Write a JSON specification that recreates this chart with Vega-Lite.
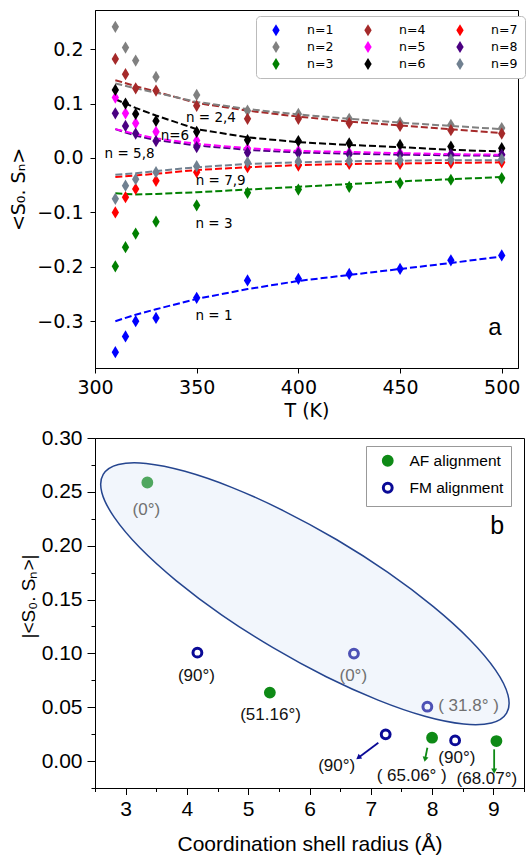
{
  "$schema": "https://vega.github.io/schema/vega-lite/v6.json",
  "background": "white",
  "padding": {"left": 9, "top": 9, "right": 0, "bottom": 0},
  "spacing": 5,
  "resolve": {"legend": {"color": "independent", "fill": "independent", "stroke": "independent"}, "scale": {"color": "independent", "fill": "independent", "stroke": "independent"}},
  "config": {
    "view": {"stroke": "black", "strokeWidth": 1},
    "axis": {"grid": false, "domainColor": "black", "tickColor": "black", "labelColor": "black", "titleColor": "black", "labelFlush": false, "labelOverlap": false, "titleFontWeight": "normal"}
  },
  "datasets": {
    "pts": [
      {"n": "n=1", "T": 310, "v": -0.357}, {"n": "n=1", "T": 315, "v": -0.328}, {"n": "n=1", "T": 320, "v": -0.300}, {"n": "n=1", "T": 330, "v": -0.294}, {"n": "n=1", "T": 350, "v": -0.257}, {"n": "n=1", "T": 375, "v": -0.225}, {"n": "n=1", "T": 400, "v": -0.222}, {"n": "n=1", "T": 425, "v": -0.213}, {"n": "n=1", "T": 450, "v": -0.204}, {"n": "n=1", "T": 475, "v": -0.188}, {"n": "n=1", "T": 500, "v": -0.179},
      {"n": "n=2", "T": 310, "v": 0.241}, {"n": "n=2", "T": 315, "v": 0.203}, {"n": "n=2", "T": 320, "v": 0.179}, {"n": "n=2", "T": 330, "v": 0.149}, {"n": "n=2", "T": 350, "v": 0.116}, {"n": "n=2", "T": 375, "v": 0.087}, {"n": "n=2", "T": 400, "v": 0.081}, {"n": "n=2", "T": 425, "v": 0.072}, {"n": "n=2", "T": 450, "v": 0.065}, {"n": "n=2", "T": 475, "v": 0.061}, {"n": "n=2", "T": 500, "v": 0.055},
      {"n": "n=3", "T": 310, "v": -0.199}, {"n": "n=3", "T": 315, "v": -0.164}, {"n": "n=3", "T": 320, "v": -0.139}, {"n": "n=3", "T": 330, "v": -0.117}, {"n": "n=3", "T": 350, "v": -0.087}, {"n": "n=3", "T": 375, "v": -0.064}, {"n": "n=3", "T": 400, "v": -0.058}, {"n": "n=3", "T": 425, "v": -0.053}, {"n": "n=3", "T": 450, "v": -0.046}, {"n": "n=3", "T": 475, "v": -0.040}, {"n": "n=3", "T": 500, "v": -0.037},
      {"n": "n=4", "T": 310, "v": 0.182}, {"n": "n=4", "T": 315, "v": 0.154}, {"n": "n=4", "T": 320, "v": 0.128}, {"n": "n=4", "T": 330, "v": 0.124}, {"n": "n=4", "T": 350, "v": 0.096}, {"n": "n=4", "T": 375, "v": 0.072}, {"n": "n=4", "T": 400, "v": 0.072}, {"n": "n=4", "T": 425, "v": 0.064}, {"n": "n=4", "T": 450, "v": 0.059}, {"n": "n=4", "T": 475, "v": 0.051}, {"n": "n=4", "T": 500, "v": 0.045},
      {"n": "n=5", "T": 310, "v": 0.111}, {"n": "n=5", "T": 315, "v": 0.082}, {"n": "n=5", "T": 320, "v": 0.064}, {"n": "n=5", "T": 330, "v": 0.048}, {"n": "n=5", "T": 350, "v": 0.032}, {"n": "n=5", "T": 375, "v": 0.017}, {"n": "n=5", "T": 400, "v": 0.013}, {"n": "n=5", "T": 425, "v": 0.010}, {"n": "n=5", "T": 450, "v": 0.009}, {"n": "n=5", "T": 475, "v": 0.007}, {"n": "n=5", "T": 500, "v": 0.006},
      {"n": "n=6", "T": 310, "v": 0.125}, {"n": "n=6", "T": 315, "v": 0.100}, {"n": "n=6", "T": 320, "v": 0.081}, {"n": "n=6", "T": 330, "v": 0.068}, {"n": "n=6", "T": 350, "v": 0.048}, {"n": "n=6", "T": 375, "v": 0.033}, {"n": "n=6", "T": 400, "v": 0.031}, {"n": "n=6", "T": 425, "v": 0.027}, {"n": "n=6", "T": 450, "v": 0.024}, {"n": "n=6", "T": 475, "v": 0.021}, {"n": "n=6", "T": 500, "v": 0.018},
      {"n": "n=7", "T": 310, "v": -0.100}, {"n": "n=7", "T": 315, "v": -0.072}, {"n": "n=7", "T": 320, "v": -0.057}, {"n": "n=7", "T": 330, "v": -0.042}, {"n": "n=7", "T": 350, "v": -0.026}, {"n": "n=7", "T": 375, "v": -0.017}, {"n": "n=7", "T": 400, "v": -0.014}, {"n": "n=7", "T": 425, "v": -0.011}, {"n": "n=7", "T": 450, "v": -0.011}, {"n": "n=7", "T": 475, "v": -0.009}, {"n": "n=7", "T": 500, "v": -0.008},
      {"n": "n=8", "T": 310, "v": 0.082}, {"n": "n=8", "T": 315, "v": 0.059}, {"n": "n=8", "T": 320, "v": 0.045}, {"n": "n=8", "T": 330, "v": 0.031}, {"n": "n=8", "T": 350, "v": 0.020}, {"n": "n=8", "T": 375, "v": 0.010}, {"n": "n=8", "T": 400, "v": 0.009}, {"n": "n=8", "T": 425, "v": 0.007}, {"n": "n=8", "T": 450, "v": 0.006}, {"n": "n=8", "T": 475, "v": 0.006}, {"n": "n=8", "T": 500, "v": 0.006},
      {"n": "n=9", "T": 310, "v": -0.075}, {"n": "n=9", "T": 315, "v": -0.051}, {"n": "n=9", "T": 320, "v": -0.039}, {"n": "n=9", "T": 330, "v": -0.026}, {"n": "n=9", "T": 350, "v": -0.015}, {"n": "n=9", "T": 375, "v": -0.008}, {"n": "n=9", "T": 400, "v": -0.006}, {"n": "n=9", "T": 425, "v": -0.005}, {"n": "n=9", "T": 450, "v": -0.004}, {"n": "n=9", "T": 475, "v": -0.003}, {"n": "n=9", "T": 500, "v": -0.002}
    ],
    "fit": [
      {"n": "n=1", "T": 310, "v": -0.300}, {"n": "n=1", "T": 320, "v": -0.288}, {"n": "n=1", "T": 330, "v": -0.278}, {"n": "n=1", "T": 350, "v": -0.259}, {"n": "n=1", "T": 375, "v": -0.241}, {"n": "n=1", "T": 400, "v": -0.226}, {"n": "n=1", "T": 425, "v": -0.215}, {"n": "n=1", "T": 450, "v": -0.204}, {"n": "n=1", "T": 475, "v": -0.193}, {"n": "n=1", "T": 500, "v": -0.181},
      {"n": "n=4", "T": 310, "v": 0.143}, {"n": "n=4", "T": 320, "v": 0.132}, {"n": "n=4", "T": 330, "v": 0.122}, {"n": "n=4", "T": 350, "v": 0.101}, {"n": "n=4", "T": 375, "v": 0.087}, {"n": "n=4", "T": 400, "v": 0.076}, {"n": "n=4", "T": 425, "v": 0.067}, {"n": "n=4", "T": 450, "v": 0.060}, {"n": "n=4", "T": 475, "v": 0.053}, {"n": "n=4", "T": 500, "v": 0.046},
      {"n": "n=2", "T": 310, "v": 0.137}, {"n": "n=2", "T": 320, "v": 0.128}, {"n": "n=2", "T": 330, "v": 0.120}, {"n": "n=2", "T": 350, "v": 0.103}, {"n": "n=2", "T": 375, "v": 0.090}, {"n": "n=2", "T": 400, "v": 0.080}, {"n": "n=2", "T": 425, "v": 0.072}, {"n": "n=2", "T": 450, "v": 0.065}, {"n": "n=2", "T": 475, "v": 0.059}, {"n": "n=2", "T": 500, "v": 0.053},
      {"n": "n=3", "T": 310, "v": -0.065}, {"n": "n=3", "T": 320, "v": -0.067}, {"n": "n=3", "T": 330, "v": -0.066}, {"n": "n=3", "T": 350, "v": -0.063}, {"n": "n=3", "T": 375, "v": -0.058}, {"n": "n=3", "T": 400, "v": -0.053}, {"n": "n=3", "T": 425, "v": -0.048}, {"n": "n=3", "T": 450, "v": -0.043}, {"n": "n=3", "T": 475, "v": -0.039}, {"n": "n=3", "T": 500, "v": -0.035},
      {"n": "n=6", "T": 310, "v": 0.108}, {"n": "n=6", "T": 320, "v": 0.092}, {"n": "n=6", "T": 330, "v": 0.078}, {"n": "n=6", "T": 350, "v": 0.053}, {"n": "n=6", "T": 375, "v": 0.038}, {"n": "n=6", "T": 400, "v": 0.029}, {"n": "n=6", "T": 425, "v": 0.024}, {"n": "n=6", "T": 450, "v": 0.020}, {"n": "n=6", "T": 475, "v": 0.015}, {"n": "n=6", "T": 500, "v": 0.012},
      {"n": "n=8", "T": 310, "v": 0.053}, {"n": "n=8", "T": 320, "v": 0.041}, {"n": "n=8", "T": 330, "v": 0.033}, {"n": "n=8", "T": 350, "v": 0.023}, {"n": "n=8", "T": 375, "v": 0.015}, {"n": "n=8", "T": 400, "v": 0.010}, {"n": "n=8", "T": 425, "v": 0.008}, {"n": "n=8", "T": 450, "v": 0.006}, {"n": "n=8", "T": 475, "v": 0.005}, {"n": "n=8", "T": 500, "v": 0.004},
      {"n": "n=5", "T": 310, "v": 0.053}, {"n": "n=5", "T": 320, "v": 0.044}, {"n": "n=5", "T": 330, "v": 0.036}, {"n": "n=5", "T": 350, "v": 0.026}, {"n": "n=5", "T": 375, "v": 0.018}, {"n": "n=5", "T": 400, "v": 0.013}, {"n": "n=5", "T": 425, "v": 0.011}, {"n": "n=5", "T": 450, "v": 0.009}, {"n": "n=5", "T": 475, "v": 0.007}, {"n": "n=5", "T": 500, "v": 0.006},
      {"n": "n=7", "T": 310, "v": -0.035}, {"n": "n=7", "T": 320, "v": -0.032}, {"n": "n=7", "T": 330, "v": -0.029}, {"n": "n=7", "T": 350, "v": -0.022}, {"n": "n=7", "T": 375, "v": -0.017}, {"n": "n=7", "T": 400, "v": -0.013}, {"n": "n=7", "T": 425, "v": -0.011}, {"n": "n=7", "T": 450, "v": -0.010}, {"n": "n=7", "T": 475, "v": -0.009}, {"n": "n=7", "T": 500, "v": -0.008},
      {"n": "n=9", "T": 310, "v": -0.031}, {"n": "n=9", "T": 320, "v": -0.028}, {"n": "n=9", "T": 330, "v": -0.024}, {"n": "n=9", "T": 350, "v": -0.017}, {"n": "n=9", "T": 375, "v": -0.011}, {"n": "n=9", "T": 400, "v": -0.008}, {"n": "n=9", "T": 425, "v": -0.006}, {"n": "n=9", "T": 450, "v": -0.005}, {"n": "n=9", "T": 475, "v": -0.004}, {"n": "n=9", "T": 500, "v": -0.004}
    ],
    "toplabels": [
      {"label": "n = 2,4", "T": 357.0, "v": 0.074},
      {"label": "n=6", "T": 339.3, "v": 0.041},
      {"label": "n = 5,8", "T": 317.0, "v": 0.008},
      {"label": "n = 7,9", "T": 361.8, "v": -0.0417},
      {"label": "n = 3", "T": 358.5, "v": -0.121},
      {"label": "n = 1", "T": 358.5, "v": -0.290}
    ],
    "bpts": [
      {"alignment": "AF alignment", "r": 3.354, "v": 0.2587},
      {"alignment": "AF alignment", "r": 5.353, "v": 0.0636},
      {"alignment": "AF alignment", "r": 8.0, "v": 0.0217},
      {"alignment": "AF alignment", "r": 9.05, "v": 0.0186},
      {"alignment": "FM alignment", "r": 4.171, "v": 0.1007},
      {"alignment": "FM alignment", "r": 6.725, "v": 0.0998},
      {"alignment": "FM alignment", "r": 7.923, "v": 0.0505},
      {"alignment": "FM alignment", "r": 7.243, "v": 0.0248},
      {"alignment": "FM alignment", "r": 8.376, "v": 0.0192}
    ],
    "ellipse": [
      {"k": 0, "r": 9.216, "v": 0.0446}, {"k": 1, "r": 8.969, "v": 0.0354}, {"k": 2, "r": 8.515, "v": 0.0344}, {"k": 3, "r": 7.882, "v": 0.0416},
      {"k": 4, "r": 7.119, "v": 0.0566}, {"k": 5, "r": 6.273, "v": 0.0783}, {"k": 6, "r": 5.404, "v": 0.1053}, {"k": 7, "r": 4.570, "v": 0.1356},
      {"k": 8, "r": 3.828, "v": 0.1674}, {"k": 9, "r": 3.229, "v": 0.1983}, {"k": 10, "r": 2.815, "v": 0.2263}, {"k": 11, "r": 2.611, "v": 0.2494},
      {"k": 12, "r": 2.634, "v": 0.2662}, {"k": 13, "r": 2.882, "v": 0.2754}, {"k": 14, "r": 3.335, "v": 0.2764}, {"k": 15, "r": 3.967, "v": 0.2691},
      {"k": 16, "r": 4.730, "v": 0.2542}, {"k": 17, "r": 5.577, "v": 0.2324}, {"k": 18, "r": 6.446, "v": 0.2055}, {"k": 19, "r": 7.279, "v": 0.1752},
      {"k": 20, "r": 8.021, "v": 0.1434}, {"k": 21, "r": 8.621, "v": 0.1125}, {"k": 22, "r": 9.036, "v": 0.0845}, {"k": 23, "r": 9.239, "v": 0.0613}
    ],
    "arrows": [
      {"alignment": "FM alignment", "r": 7.123, "v": 0.0171, "r2": 6.797, "v2": 0.0031},
      {"alignment": "AF alignment", "r": 7.923, "v": 0.0124, "r2": 7.886, "v2": 0.0016},
      {"alignment": "AF alignment", "r": 9.013, "v": 0.0109, "r2": 9.013, "v2": -0.0093}
    ],
    "blabels": [
      {"label": "(0°)", "r": 3.338, "v": 0.2333, "inside": true},
      {"label": "(90°)", "r": 4.155, "v": 0.079, "inside": false},
      {"label": "(51.16°)", "r": 5.364, "v": 0.0425, "inside": false},
      {"label": "(0°)", "r": 6.714, "v": 0.079, "inside": true},
      {"label": "( 31.8° )", "r": 8.595, "v": 0.0511, "inside": true},
      {"label": "(90°)", "r": 6.443, "v": -0.0046, "inside": false},
      {"label": "( 65.06° )", "r": 7.668, "v": -0.0139, "inside": false},
      {"label": "(90°)", "r": 8.404, "v": 0.0031, "inside": false},
      {"label": "(68.07°)", "r": 8.894, "v": -0.017, "inside": false}
    ]
  },
  "vconcat": [
    {
      "width": 423,
      "height": 358,
      "layer": [
        {
          "data": {"name": "fit"},
          "mark": {"type": "line", "strokeDash": [7, 3], "strokeWidth": 2},
          "encoding": {
            "x": {"field": "T", "type": "quantitative", "scale": {"domain": [300, 508], "nice": false, "zero": false},
              "axis": {"title": "T (K)", "values": [300, 350, 400, 450, 500], "format": "d", "labelFont": "DejaVu Sans", "labelFontSize": 19, "titleFont": "DejaVu Sans", "titleFontSize": 19, "tickSize": 5, "labelPadding": 5, "titlePadding": 4}},
            "y": {"field": "v", "type": "quantitative", "scale": {"domain": [-0.386, 0.272], "nice": false, "zero": false},
              "axis": {"title": "<S₀. Sₙ>", "values": [-0.3, -0.2, -0.1, 0, 0.1, 0.2], "format": ".1f", "labelFont": "DejaVu Sans", "labelFontSize": 19, "titleFont": "DejaVu Sans", "titleFontSize": 19, "tickSize": 5, "labelPadding": 7, "titlePadding": 8}},
            "stroke": {"field": "n", "type": "nominal",
              "scale": {"domain": ["n=9", "n=8", "n=7", "n=6", "n=5", "n=4", "n=3", "n=2", "n=1"], "range": ["#708090", "#4b0082", "#ff0000", "#000000", "#ff00ff", "#a52a2a", "#008000", "#808080", "#0000ff"]},
              "legend": null},
            "order": {"field": "T", "type": "quantitative"}
          }
        },
        {
          "data": {"name": "pts"},
          "mark": {"type": "point", "shape": "M0,-1L0.6,0L0,1L-0.6,0Z", "filled": true, "size": 150, "opacity": 1},
          "encoding": {
            "x": {"field": "T", "type": "quantitative"},
            "y": {"field": "v", "type": "quantitative"},
            "color": {"field": "n", "type": "nominal",
              "scale": {"domain": ["n=1", "n=2", "n=3", "n=4", "n=5", "n=6", "n=7", "n=8", "n=9"], "range": ["#0000ff", "#808080", "#008000", "#a52a2a", "#ff00ff", "#000000", "#ff0000", "#4b0082", "#708090"]},
              "legend": {"title": null, "orient": "none", "legendX": 161, "legendY": 6, "columns": 3, "symbolType": "M0,-1L0.6,0L0,1L-0.6,0Z", "symbolSize": 150, "labelFont": "DejaVu Sans", "labelFontSize": 12.5, "labelOffset": 24, "columnPadding": 21, "rowPadding": 3, "padding": 7, "symbolOffset": 6, "fillColor": "white", "strokeColor": "#bbbbbb", "cornerRadius": 4}}
          }
        },
        {
          "data": {"name": "toplabels"},
          "mark": {"type": "text", "font": "DejaVu Sans", "fontSize": 13.5, "color": "black"},
          "encoding": {
            "x": {"field": "T", "type": "quantitative"},
            "y": {"field": "v", "type": "quantitative"},
            "text": {"field": "label"}
          }
        },
        {
          "data": {"values": [{"panel": "a", "T": 496.6, "v": -0.313}]},
          "mark": {"type": "text", "font": "Liberation Sans", "fontSize": 24, "color": "black"},
          "encoding": {
            "x": {"field": "T", "type": "quantitative"},
            "y": {"field": "v", "type": "quantitative"},
            "text": {"field": "panel"}
          }
        }
      ]
    },
    {
      "width": 429,
      "height": 350,
      "resolve": {"axis": {"x": "independent", "y": "independent"}},
      "layer": [
        {
          "data": {"name": "bpts"},
          "mark": {"type": "point", "opacity": 0},
          "encoding": {
            "x": {"field": "r", "type": "quantitative", "scale": {"domain": [2.5, 9.5], "nice": false, "zero": false},
              "axis": {"orient": "bottom", "title": null, "values": [2.5, 3.5, 4.5, 5.5, 6.5, 7.5, 8.5, 9.5], "labels": false, "domain": false, "tickSize": 3.5}},
            "y": {"field": "v", "type": "quantitative", "scale": {"domain": [-0.025, 0.3], "nice": false, "zero": false},
              "axis": {"orient": "left", "title": null, "values": [-0.025, 0.025, 0.075, 0.125, 0.175, 0.225, 0.275], "labels": false, "domain": false, "tickSize": 4}}
          }
        },
        {
          "data": {"name": "bpts"},
          "mark": {"type": "point", "shape": "circle", "size": 78, "strokeWidth": 3, "opacity": 1},
          "encoding": {
            "x": {"field": "r", "type": "quantitative",
              "axis": {"orient": "bottom", "title": "Coordination shell radius (Å)", "values": [3, 4, 5, 6, 7, 8, 9], "format": "d", "tickSize": 6.5,
                "labelFont": "Liberation Sans", "labelFontSize": 21, "titleFont": "Liberation Sans", "titleFontSize": 21, "labelPadding": 4, "titlePadding": 14}},
            "y": {"field": "v", "type": "quantitative",
              "axis": {"orient": "left", "title": "|<S₀. Sₙ>|", "values": [0, 0.05, 0.1, 0.15, 0.2, 0.25, 0.3], "format": ".2f", "tickSize": 8,
                "labelFont": "Liberation Sans", "labelFontSize": 21, "titleFont": "Liberation Sans", "titleFontSize": 19, "labelPadding": 5, "titlePadding": 3, "titleY": 158}},
            "fill": {"field": "alignment", "type": "nominal", "scale": {"domain": ["AF alignment", "FM alignment"], "range": ["#0e8a16", "transparent"]},
              "legend": {"title": null, "orient": "none", "legendX": 271, "legendY": 8, "symbolType": "circle", "symbolSize": 78, "symbolStrokeWidth": 3, "labelFont": "Liberation Sans", "labelFontSize": 15.5, "labelOffset": 14, "rowPadding": 5, "padding": 7, "symbolOffset": 7, "fillColor": "white", "strokeColor": "#999999"}},
            "stroke": {"field": "alignment", "type": "nominal", "scale": {"domain": ["AF alignment", "FM alignment"], "range": ["#0e8a16", "#0a0a96"]},
              "legend": {"title": null, "orient": "none", "legendX": 271, "legendY": 8, "symbolType": "circle", "symbolSize": 78, "symbolStrokeWidth": 3, "labelFont": "Liberation Sans", "labelFontSize": 15.5, "labelOffset": 14, "rowPadding": 5, "padding": 7, "symbolOffset": 7, "fillColor": "white", "strokeColor": "#999999"}}
          }
        },
        {
          "data": {"name": "ellipse"},
          "mark": {"type": "line", "interpolate": "cardinal-closed", "fill": "#d7e3f6", "fillOpacity": 0.33, "stroke": "#25458f", "strokeWidth": 1.5},
          "encoding": {
            "x": {"field": "r", "type": "quantitative", "axis": null},
            "y": {"field": "v", "type": "quantitative", "axis": null},
            "order": {"field": "k", "type": "quantitative"}
          }
        },
        {
          "data": {"name": "arrows"},
          "mark": {"type": "rule", "strokeWidth": 1.8},
          "encoding": {
            "x": {"field": "r", "type": "quantitative", "axis": null},
            "y": {"field": "v", "type": "quantitative", "axis": null},
            "x2": {"field": "r2"},
            "y2": {"field": "v2"},
            "color": {"condition": {"test": "datum.alignment === 'FM alignment'", "value": "#0a0a96"}, "value": "#0e8a16"}
          }
        },
        {
          "data": {"name": "arrows"},
          "mark": {"type": "point", "shape": "triangle-up", "filled": true, "size": 35, "opacity": 1},
          "encoding": {
            "x": {"field": "r2", "type": "quantitative", "axis": null},
            "y": {"field": "v2", "type": "quantitative", "axis": null},
            "angle": {"condition": [{"test": "datum.alignment === 'FM alignment'", "value": 233}, {"test": "datum.r2 < 8.5", "value": 191}], "value": 180},
            "color": {"condition": {"test": "datum.alignment === 'FM alignment'", "value": "#0a0a96"}, "value": "#0e8a16"}
          }
        },
        {
          "data": {"name": "blabels"},
          "mark": {"type": "text", "font": "Liberation Sans", "fontSize": 17},
          "encoding": {
            "x": {"field": "r", "type": "quantitative", "axis": null},
            "y": {"field": "v", "type": "quantitative", "axis": null},
            "text": {"field": "label"},
            "color": {"condition": {"test": "datum.inside", "value": "#707070"}, "value": "#111111"}
          }
        },
        {
          "data": {"values": [{"panel": "b", "r": 9.062, "v": 0.218}]},
          "mark": {"type": "text", "font": "Liberation Sans", "fontSize": 25, "color": "black"},
          "encoding": {
            "x": {"field": "r", "type": "quantitative", "axis": null},
            "y": {"field": "v", "type": "quantitative", "axis": null},
            "text": {"field": "panel"}
          }
        }
      ]
    }
  ]
}
